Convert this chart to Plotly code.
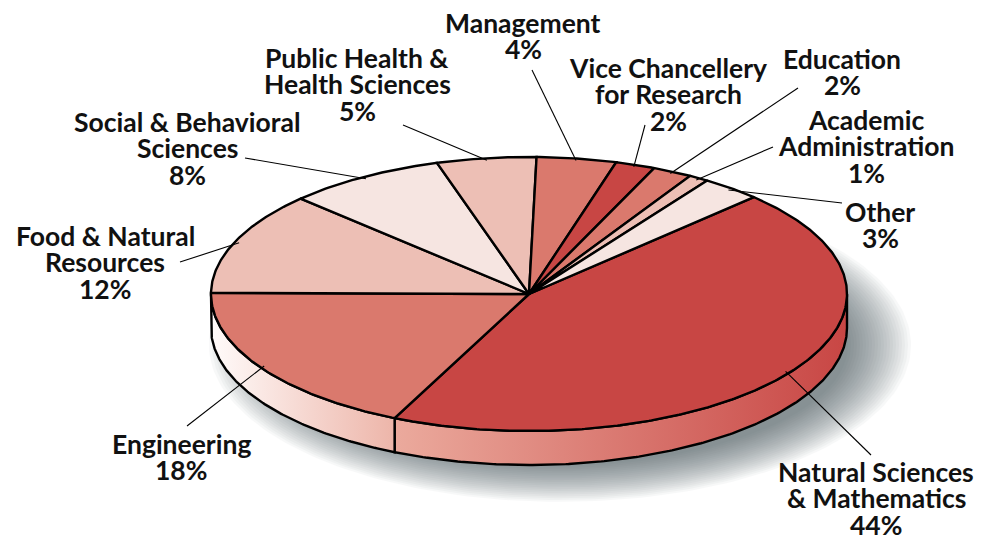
import numpy as np
import plotly.graph_objects as go

# ---------------- data ----------------
categories = ["Natural Sciences & Mathematics", "Engineering", "Food & Natural Resources",
              "Social & Behavioral Sciences", "Public Health & Health Sciences", "Management",
              "Vice Chancellery for Research", "Education", "Academic Administration", "Other"]
values = [44, 18, 12, 8, 5, 4, 2, 2, 1, 3]
label_lines = [["Natural Sciences", "& Mathematics"], ["Engineering"], ["Food & Natural", "Resources"],
               ["Social & Behavioral", "Sciences"], ["Public Health &", "Health Sciences"], ["Management"],
               ["Vice Chancellery", "for Research"], ["Education"], ["Academic", "Administration"], ["Other"]]

# ---------------- style ----------------
top_colors = ["#C84644", "#DA796D", "#EDBFB5", "#F6E5E1", "#EDBFB5", "#DA796D",
              "#C84644", "#DA796D", "#EDBFB5", "#F6E5E1"]
side_left = ["#EBAA9D", "#FFFBFA", "#FFFFFF", "#FFFFFF", "#FFFFFF", "#FFFFFF",
             "#EBAA9D", "#FFFBFA", "#FFFFFF", "#FFFFFF"]
side_right = ["#C84644", "#EDB5A9", "#EDBFB5", "#F6E5E1", "#EDBFB5", "#DA796D",
              "#C84644", "#DA796D", "#EDBFB5", "#F6E5E1"]
label_pos = [(876, 472), (181, 444), (105, 236), (187, 122), (357, 58), (523, 23),
             (668, 68), (842, 59), (866, 120), (880, 212)]
leader_start = [(871, 455), (187, 426), (180, 262), (245, 158), (403, 125), (532, 70),
                (645, 125), (798, 88), (773, 147), (842, 203)]
CX, CY, RX, RY, DEPTH = 529, 294, 318, 137, 34
START = 45.0
LINE_H = 26.4
FONT = dict(family="Lato", size=26.5, color="#111111", weight="bold")
PAGE_OFF = 8  # html body margin


def pt(theta_deg, r=1.0, dy=0.0):
    t = np.radians(theta_deg)
    return CX + r * RX * np.cos(t), CY - r * RY * np.sin(t) + dy


fig = go.Figure()

# soft blurred shadow (decoration, drawn first): many faint stacked ellipses
tt = np.linspace(0, 2 * np.pi, 240)
SCX, SCY = CX + 31, CY + DEPTH + 17
for k in range(22):
    g = 33 - 3 * k
    fig.add_trace(go.Scatter(x=SCX + (RX + g) * np.cos(tt), y=SCY + (RY + 0.6 * g) * np.sin(tt),
                             mode="lines", fill="toself", fillcolor="rgb(62,78,84)", opacity=0.036,
                             line=dict(color="rgba(0,0,0,0)", width=1),
                             hoverinfo="skip", showlegend=False))

total = float(sum(values))
bounds = [START]
for v in values:
    bounds.append(bounds[-1] - v / total * 360.0)

# side walls (front half only)
for i in range(len(values)):
    hi, lo = bounds[i], bounds[i + 1]
    a, b = max(lo, -180.0), min(hi, 0.0)
    if b - a <= 0.3:
        continue
    th = np.linspace(b, a, max(4, int((b - a) * 2)))
    xt, yt = pt(th)
    xb, yb = pt(th[::-1], dy=DEPTH)
    xs = np.concatenate([xt, xb, xt[:1]])
    ys = np.concatenate([yt, yb, yt[:1]])
    fig.add_trace(go.Scatter(x=xs, y=ys, mode="lines", fill="toself",
                             fillcolor=side_right[i],
                             fillgradient=dict(type="horizontal",
                                               colorscale=[[0, side_left[i]], [1, side_right[i]]]),
                             line=dict(color="black", width=2.4), hoverinfo="skip", showlegend=False))

# top slices
for i in range(len(values)):
    hi, lo = bounds[i], bounds[i + 1]
    th = np.linspace(hi, lo, max(4, int((hi - lo) * 2)))
    xa, ya = pt(th)
    xs = np.concatenate([[CX], xa, [CX]])
    ys = np.concatenate([[CY], ya, [CY]])
    fig.add_trace(go.Scatter(x=xs, y=ys, mode="lines", fill="toself", fillcolor=top_colors[i],
                             line=dict(color="black", width=2.4), name=categories[i],
                             hovertemplate=categories[i] + ": %{text}<extra></extra>",
                             text=[f"{values[i]}%"] * len(xs), showlegend=False))

# leader lines + labels
annotations = []
for i in range(len(values)):
    mid = (bounds[i] + bounds[i + 1]) / 2.0
    ex, ey = pt(mid, r=0.985)
    sx, sy = leader_start[i]
    fig.add_trace(go.Scatter(x=[sx, ex], y=[sy, ey], mode="lines",
                             line=dict(color="black", width=1.1), hoverinfo="skip", showlegend=False))
    lines = label_lines[i] + [f"{values[i]}%"]
    lx, ly = label_pos[i]
    for j, t in enumerate(lines):
        annotations.append(dict(x=lx, y=ly + j * LINE_H, text=t, showarrow=False, borderpad=0,
                                xanchor="center", yanchor="middle", font=FONT))

fig.update_layout(width=986, height=540, margin=dict(l=0, r=0, t=0, b=0),
                  paper_bgcolor="white", plot_bgcolor="rgba(0,0,0,0)",
                  xaxis=dict(range=[PAGE_OFF, 986 + PAGE_OFF], visible=False),
                  yaxis=dict(range=[540 + PAGE_OFF, PAGE_OFF], visible=False),
                  annotations=annotations, showlegend=False)
fig.write_html("out.html")
